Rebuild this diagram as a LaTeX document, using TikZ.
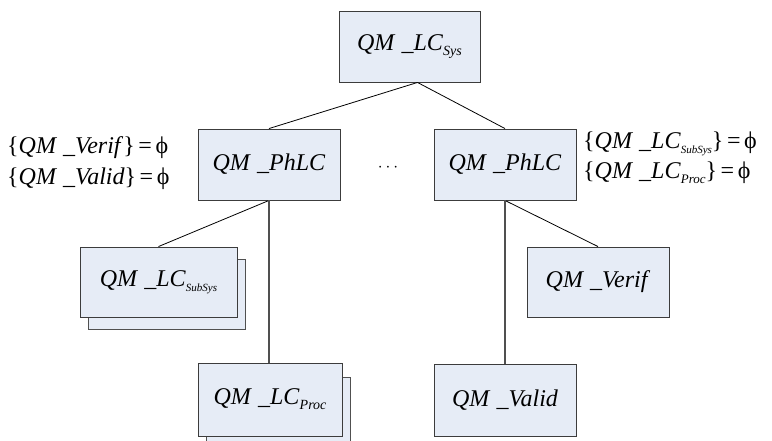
\documentclass[tikz,border=0pt]{standalone}
\usepackage{fontspec}
\setmainfont{Liberation Serif}
\definecolor{boxfill}{RGB}{230,236,246}
\definecolor{boxline}{RGB}{60,60,60}
\definecolor{vline}{RGB}{80,80,80}
\newcommand\lblfont{\fontsize{24}{28}\selectfont}
\newcommand\qmtxt[1]{\textit{QM\hspace{0.3em}\_#1}}
\newcommand\subtxt[2]{\raisebox{-5pt}{\fontsize{#1}{#1}\selectfont\textit{#2}}}
\newcommand\eqphi{\hspace{0.15em}=\hspace{0.15em}ϕ}
\begin{document}
\begin{tikzpicture}[x=1pt,y=-1pt,
  box/.style={draw=boxline, fill=boxfill, line width=0.9pt, inner sep=0pt, font=\lblfont},
  link/.style={line width=0.8pt, draw=black},
  vlink/.style={line width=1.2pt, draw=vline},
  side/.style={inner sep=0pt, font=\lblfont}]
\useasboundingbox (0,0) rectangle (772,440);
\clip (0,0) rectangle (772,440);
% boxes
\node[box, minimum width=141pt, minimum height=71pt] (top) at (409.5,46.5) {\qmtxt{LC}\subtxt{14}{Sys}};
\node[box, minimum width=142pt, minimum height=71pt] (phl) at (269,164.5) {\qmtxt{PhLC}};
\node[box, minimum width=142pt, minimum height=71pt] (phr) at (505,164.5) {\qmtxt{PhLC}};
\node[inner sep=0pt, font=\fontsize{17}{20}\selectfont] (dots) at (388,168) {$\cdots$};
% subsystem stack
\node[box, draw=vline, minimum width=157pt, minimum height=70pt] (sssh) at (166.5,294) {};
\node[box, minimum width=157pt, minimum height=70pt] (ss) at (158.5,282) {\qmtxt{LC}\subtxt{11}{SubSys}};
% process stack
\node[box, draw=vline, minimum width=144pt, minimum height=73pt] (prsh) at (278,413.5) {};
\node[box, minimum width=144pt, minimum height=73pt] (pr) at (270,399.5) {\qmtxt{LC}\subtxt{14}{Proc}};
% right children
\node[box, minimum width=142pt, minimum height=70pt] (ver) at (598,282) {\qmtxt{Verif}};
\node[box, minimum width=142pt, minimum height=72pt] (val) at (505,400) {\qmtxt{Valid}};
% connectors
\draw[link] ([xshift=8pt]top.south) -- (phl.north);
\draw[link] ([xshift=8pt]top.south) -- (phr.north);
\draw[link] (phl.south) -- (ss.north);
\draw[vlink] (phl.south) -- (phl.south |- pr.north);
\draw[link] (phr.south) -- (ver.north);
\draw[vlink] (phr.south) -- (val.north);
% side texts
\node[side, anchor=base west] (lv) at (7,153) {\{\qmtxt{Verif}\}\eqphi};
\node[side, anchor=base west] (lva) at (7,184) {\{\qmtxt{Valid}\}\eqphi};
\node[side, anchor=base west] (rs) at (583,148) {\{\qmtxt{LC}\subtxt{11}{SubSys}\}\eqphi};
\node[side, anchor=base west] (rp) at (583,178) {\{\qmtxt{LC}\subtxt{13}{Proc}\}\eqphi};
\end{tikzpicture}
\end{document}
